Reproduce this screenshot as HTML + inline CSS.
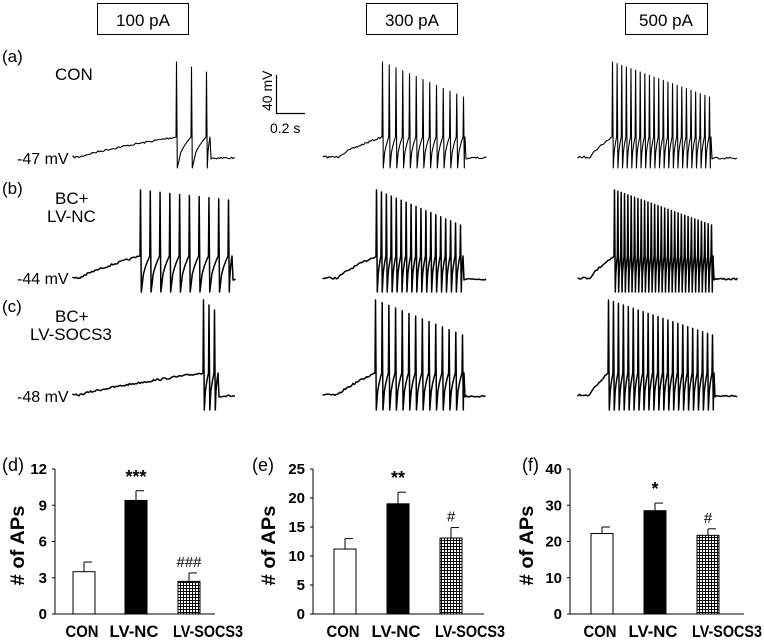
<!DOCTYPE html>
<html><head><meta charset="utf-8"><style>
body{margin:0;background:#fff}
svg{display:block;font-family:"Liberation Sans",sans-serif}
</style></head><body>
<svg id="fig" width="764" height="640" viewBox="0 0 764 640">
<defs><pattern id="grid" width="3" height="3" patternUnits="userSpaceOnUse"><rect width="3" height="3" fill="#fff"/><path d="M0 0.5H3M0.5 0V3" stroke="#000" stroke-width="1"/></pattern></defs>
<g>
<rect x="97.5" y="3.5" width="91" height="31" fill="none" stroke="#000"/>
<text x="143" y="26" font-size="17" text-anchor="middle">100 pA</text>
<rect x="366.5" y="3.5" width="91" height="31" fill="none" stroke="#000"/>
<text x="412" y="26" font-size="17" text-anchor="middle">300 pA</text>
<rect x="625.5" y="3.5" width="82" height="31" fill="none" stroke="#000"/>
<text x="666" y="26" font-size="17" text-anchor="middle">500 pA</text>
</g>
<g font-size="17">
<text x="2" y="62">(a)</text>
<text x="55" y="80">CON</text>
<text x="17" y="164" font-size="16">-47 mV</text>
<text x="2" y="194">(b)</text>
<text x="55" y="204">BC+</text>
<text x="47" y="222">LV-NC</text>
<text x="17" y="284" font-size="16">-44 mV</text>
<text x="2" y="312">(c)</text>
<text x="55" y="322">BC+</text>
<text x="30" y="340">LV-SOCS3</text>
<text x="17" y="402" font-size="16">-48 mV</text>
</g>
<g>
<path d="M276.5 75V113.5H305" fill="none" stroke="#000" stroke-width="1.2"/>
<text x="0" y="0" font-size="14" transform="translate(272,111) rotate(-90)">40 mV</text>
<text x="270" y="133" font-size="14">0.2 s</text>
</g>
<g id="traces"></g>
<g id="charts"></g>
</svg>
<script>
// Bar chart data
const categories = ["CON","LV-NC","LV-SOCS3"];
const meansD = [3.5, 9.4, 2.7];
const errD = [0.8, 0.8, 0.7];
const meansE = [11.2, 19.0, 13.1];
const errE = [1.8, 2.0, 1.8];
const meansF = [22.2, 28.5, 21.7];
const errF = [1.8, 2.1, 1.8];
const ticksD = [0,3,6,9,12];
const ticksE = [0,5,10,15,20,25];
const ticksF = [0,10,20,30,40];
const starsD = ["","***","###"];
const starsE = ["","**","#"];
const starsF = ["","*","#"];
// Trace data: spike counts per row (a,b,c) x column (100,300,500 pA)
const spikeCounts = [[3,13,22],[10,18,30],[3,14,22]];

const NS="http://www.w3.org/2000/svg";
function mk(tag,attrs,parent){const e=document.createElementNS(NS,tag);for(const k in attrs)e.setAttribute(k,attrs[k]);parent.appendChild(e);return e;}

let seed=7;function rnd(){seed=(seed*16807)%2147483647;return seed/2147483647-0.5;}

const rows=[{rest:157,top:62,trough:168,rise:20},{rest:278,top:190,trough:292,rise:22},{rest:395,top:300,trough:410,rise:22}];
const cols=[{x0:73,x1:236,on:80,first:[176,140,203],last:[206,228,214],end:[210,232,218]},
            {x0:323,x1:487,on:338,first:[382,376,375],last:[463,460,462],end:[465,463,464]},
            {x0:578,x1:738,on:590,first:[612,614,608],last:[709,711,712],end:[711,713,714]}];
const tg=document.getElementById('traces');
rows.forEach((r,ri)=>{cols.forEach((c,ci)=>{
  const n=spikeCounts[ri][ci];
  const first=c.first[ri], last=c.last[ri], end=c.end[ri];
  const plat=r.rest-r.rise;
  let d=`M${c.x0} ${r.rest}`;
  for(let x=c.x0;x<c.on;x+=1.5)d+=`L${x} ${r.rest+rnd()*2}`;
  for(let x=c.on;x<first;x+=1.5){const t=(x-c.on)/(first-c.on);d+=`L${x} ${r.rest-(r.rise)*Math.pow(t,0.8)+rnd()*2}`;}
  for(let i=0;i<n;i++){
    const sx=n>1?first+(last-first)*i/(n-1):first;
    const nx=i<n-1?first+(last-first)*(i+1)/(n-1):end;
    const decay=i/(Math.max(n-1,1));
    const top=r.top+decay*(ci===0?10:35);
    d+=`L${sx} ${plat}L${sx+0.5} ${top}L${sx+1.3} ${r.trough}`;
    const w=nx-sx-1.3;
    for(let k=1;k<=4;k++){const t=k/4;d+=`L${sx+1.3+w*t} ${r.trough-(r.trough-plat)*Math.sqrt(t)}`;}
  }
  d+=`L${end} ${plat}L${end+1} ${r.rest+2}`;
  for(let x=end+2;x<c.x1;x+=1.5)d+=`L${x} ${r.rest+1+rnd()*2}`;
  const p=mk('path',{d:d,fill:'none',stroke:'#000','stroke-width':ri===0?1.1:1.5,'stroke-linejoin':'round'},tg);
  
  
});});

const cg=document.getElementById('charts');
const charts=[
 {letter:"(d)",lx:2,tx:24,ax:55,end:215,max:12,ticks:ticksD,means:meansD,errs:errD,stars:starsD,bx:[73,125,178]},
 {letter:"(e)",lx:252,tx:275,ax:313,end:484,max:25,ticks:ticksE,means:meansE,errs:errE,stars:starsE,bx:[334,387,440]},
 {letter:"(f)",lx:522,tx:533,ax:570,end:744,max:40,ticks:ticksF,means:meansF,errs:errF,stars:starsF,bx:[591,644,697]}];
const labelShift=[-2,-2,19], labelLen=[33,49,70];
const yTop=469,yBot=614,bw=22;
charts.forEach((ch,ci)=>{
  const g=mk('g',{},cg);
  
  
  const y=v=>yBot-(v/ch.max)*(yBot-yTop);
  const t=mk('text',{x:ch.lx,y:471,'font-size':18},g);t.textContent=ch.letter;
  
  
  mk('path',{d:`M${ch.ax} ${yTop}V${yBot}H${ch.end}`,fill:'none',stroke:'#000','stroke-width':1},g);
  ch.ticks.forEach(v=>{
    mk('line',{x1:ch.ax-3,x2:ch.ax,y1:y(v),y2:y(v),stroke:'#000'},g);
    const tt=mk('text',{x:ch.ax-8,y:y(v)+5,'font-size':15,'font-weight':'bold','text-anchor':'end'},g);tt.textContent=v;
    
    
  });
  const yl=mk('text',{transform:`translate(${ch.tx},${(yTop+yBot)/2+4}) rotate(-90)`,'font-size':19,'font-weight':'bold','text-anchor':'middle',textLength:80,lengthAdjust:'spacingAndGlyphs'},g);yl.textContent="# of APs";
  
  
  ch.means.forEach((m,i)=>{
    const x=ch.bx[i];
    const fill=i===0?'#fff':(i===1?'#000':'url(#grid)');
    mk('line',{x1:x+bw/2,x2:x+bw/2,y1:y(m),y2:y(m+ch.errs[i]),stroke:'#000','stroke-width':1},g);
    mk('line',{x1:x+bw/2,x2:x+bw-3,y1:y(m+ch.errs[i]),y2:y(m+ch.errs[i]),stroke:'#000','stroke-width':1},g);
    const b=mk('rect',{x:x,y:y(m),width:bw,height:yBot-y(m),fill:fill,stroke:'#000','stroke-width':1},g);
    
    
    if(ch.stars[i]){const isStar=ch.stars[i][0]==='*';const s=mk('text',{x:x+bw/2,y:y(m+ch.errs[i])-(isStar?8:6),'font-size':isStar?18:15,'font-weight':isStar?'bold':'normal','text-anchor':'middle'},g);s.textContent=ch.stars[i];
      
      }
    const c=mk('text',{x:x+bw/2+labelShift[i]-labelLen[i]/2,y:637,'font-size':17,'font-weight':'bold',textLength:labelLen[i],lengthAdjust:'spacingAndGlyphs'},g);c.textContent=categories[i];
    
    
  });
});
</script>
</body></html>
